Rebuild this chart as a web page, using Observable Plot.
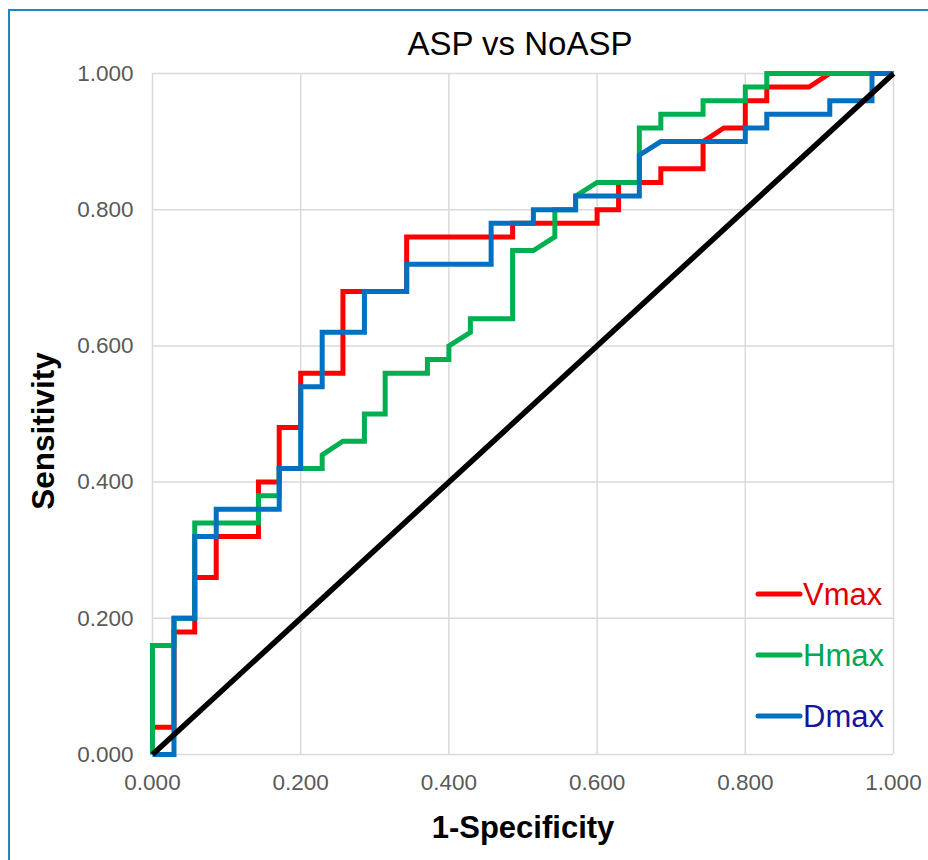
<!DOCTYPE html>
<html><head><meta charset="utf-8">
<script src="https://cdn.jsdelivr.net/npm/d3@7"></script>
<script src="https://cdn.jsdelivr.net/npm/@observablehq/plot@0.6"></script>
<style>
html,body{margin:0;padding:0;background:#fff;}
#wrap{position:relative;width:928px;height:860px;overflow:hidden;font-family:"Liberation Sans",Arial,sans-serif;}
#chart{position:absolute;left:0;top:0;}
#frame{position:absolute;left:8px;top:9px;width:940px;height:880px;border-left:2px solid #1b87c6;border-top:2px solid #1b87c6;pointer-events:none;}
#legend{position:absolute;left:0;top:0;}
</style></head><body>
<div id="wrap"><div id="chart"></div><div id="frame"></div><svg id="legend" width="928" height="860"></svg></div>
<script>
const title = "ASP vs NoASP";
const xLabel = "1-Specificity";
const yLabel = "Sensitivity";
const tickValues = [0, 0.2, 0.4, 0.6, 0.8, 1.0];
const seriesNames = ["Vmax", "Hmax", "Dmax"];
const seriesColors = ["#ff0000", "#00b050", "#0070c0"];
const labelColors = ["#e00000", "#00a650", "#14149e"];

const vmaxFpr  = [0, 0, .029, .029, .057, .057, .086, .086, .143, .143, .171, .171, .200, .200, .257, .257, .343, .343, .486, .486, .600, .600, .629, .629, .686, .686, .743, .743, .771, .800, .800, .829, .829, .886, .914, 1];
const vmaxSens = [0, .04, .04, .18, .18, .26, .26, .32, .32, .40, .40, .48, .48, .56, .56, .68, .68, .76, .76, .78, .78, .80, .80, .84, .84, .86, .86, .90, .92, .92, .96, .96, .98, .98, 1, 1];

const hmaxFpr  = [0, 0, .029, .029, .057, .057, .143, .143, .171, .171, .229, .229, .257, .286, .286, .314, .314, .371, .371, .400, .400, .429, .429, .486, .486, .514, .543, .543, .571, .571, .600, .657, .657, .686, .686, .743, .743, .800, .800, .829, .829, 1];
const hmaxSens = [0, .16, .16, .20, .20, .34, .34, .38, .38, .42, .42, .44, .46, .46, .50, .50, .56, .56, .58, .58, .60, .62, .64, .64, .74, .74, .76, .80, .80, .82, .84, .84, .92, .92, .94, .94, .96, .96, .98, .98, 1, 1];

const dmaxFpr  = [0, .029, .029, .057, .057, .086, .086, .171, .171, .200, .200, .229, .229, .286, .286, .343, .343, .457, .457, .514, .514, .571, .571, .657, .657, .686, .800, .800, .829, .829, .914, .914, .971, .971, 1];
const dmaxSens = [0, 0, .20, .20, .32, .32, .36, .36, .42, .42, .54, .54, .62, .62, .68, .68, .72, .72, .78, .78, .80, .80, .82, .82, .88, .90, .90, .92, .92, .94, .94, .96, .96, 1, 1];

const refFpr = [0, 1];
const refSens = [0, 1];

const seriesData = [[vmaxFpr, vmaxSens], [hmaxFpr, hmaxSens], [dmaxFpr, dmaxSens]];
const rows = [];
seriesData.forEach(([xs, ys], i) => xs.forEach((x, j) => rows.push({series: seriesNames[i], fpr: x, sens: ys[j]})));
const refRows = refFpr.map((x, j) => ({fpr: x, sens: refSens[j]}));

const fmt = d3.format(".3f");
const font = "'Liberation Sans', Arial, sans-serif";

const chart = Plot.plot({
  width: 928,
  height: 860,
  marginLeft: 152,
  marginRight: 35,
  marginTop: 73,
  marginBottom: 106,
  style: {fontFamily: font, fontSize: "22px", background: "transparent", overflow: "visible"},
  x: {domain: [0, 1], axis: null},
  y: {domain: [0, 1], axis: null},
  color: {domain: seriesNames, range: seriesColors},
  marks: [
    Plot.gridX(tickValues, {stroke: "#d9d9d9", strokeOpacity: 1, strokeWidth: 1.5}),
    Plot.gridY(tickValues, {stroke: "#d9d9d9", strokeOpacity: 1, strokeWidth: 1.5}),
    Plot.axisX(tickValues, {tickSize: 0, tickPadding: 20, tickFormat: fmt, fill: "#595959", fontSize: 22.5, label: null}),
    Plot.axisY(tickValues, {tickSize: 0, tickPadding: 19, tickFormat: fmt, fill: "#595959", fontSize: 22.5, label: null}),
    Plot.line(rows, {x: "fpr", y: "sens", z: "series", stroke: "series", strokeWidth: 5, strokeLinejoin: "miter", strokeMiterlimit: 10, strokeLinecap: "butt"}),
    Plot.line(refRows, {x: "fpr", y: "sens", stroke: "#000", strokeWidth: 5.5, strokeLinecap: "butt"}),
    Plot.text([title], {text: d => d, frameAnchor: "top", lineAnchor: "middle", textAnchor: "middle", dx: -3, dy: -29, fontSize: 33, fill: "#000"}),
    Plot.text([xLabel], {text: d => d, frameAnchor: "bottom", lineAnchor: "middle", textAnchor: "middle", dy: 74, fontSize: 31, fontWeight: "bold", fill: "#000"}),
    Plot.text([yLabel], {text: d => d, frameAnchor: "left", lineAnchor: "middle", textAnchor: "middle", rotate: -90, dx: -109, dy: 17, fontSize: 31.5, fontWeight: "bold", fill: "#000"})
  ]
});
document.getElementById("chart").appendChild(chart);

// legend
const leg = d3.select("#legend");
const legX = 758, legY0 = 594, legGap = 61;
seriesNames.forEach((name, i) => {
  const y = legY0 + i * legGap;
  leg.append("line").attr("x1", legX).attr("x2", legX + 42).attr("y1", y).attr("y2", y)
    .attr("stroke", seriesColors[i]).attr("stroke-width", 5).attr("stroke-linecap", "round");
  leg.append("text").attr("x", legX + 45).attr("y", y + 11).attr("font-family", font)
    .attr("font-size", 31).attr("fill", labelColors[i]).text(name);
});
</script>
</body></html>
